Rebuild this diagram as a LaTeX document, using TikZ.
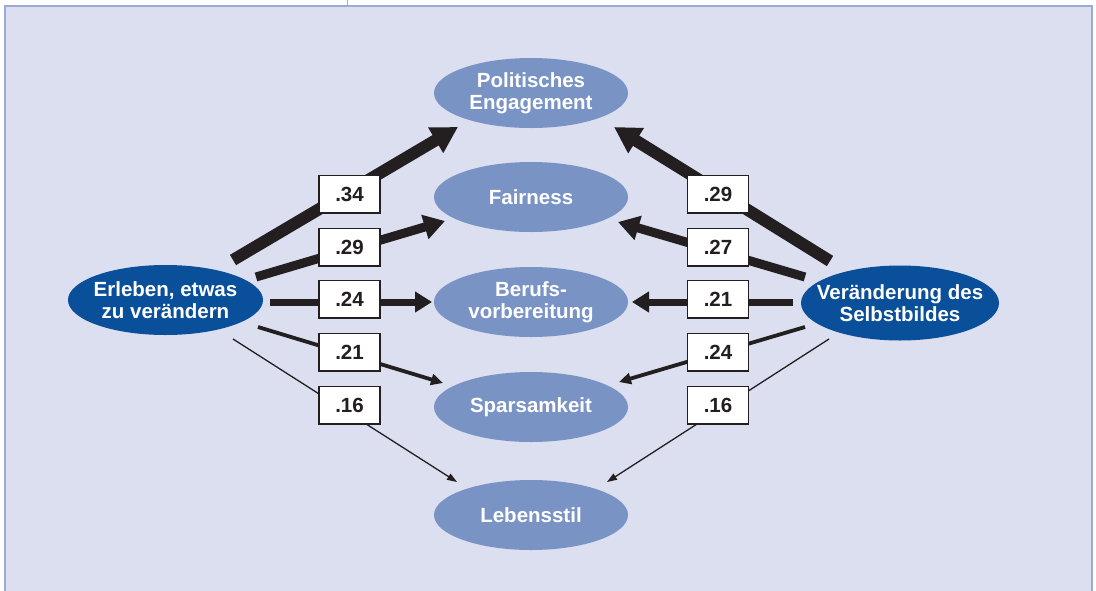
\documentclass[tikz,border=0pt]{standalone}
\usepackage{fontspec}
\setmainfont{Liberation Sans}
\usetikzlibrary{arrows.meta,shapes.geometric}
\definecolor{bgfill}{HTML}{DCDFEF}
\definecolor{bgline}{HTML}{9DAAD6}
\definecolor{lightov}{HTML}{7A93C5}
\definecolor{darkov}{HTML}{0A4F9A}
\definecolor{ink}{HTML}{231F20}
\begin{document}
\begin{tikzpicture}[x=1pt,y=-1pt,
  outcome/.style={ellipse, fill=lightov, minimum width=194pt, minimum height=70pt,
    inner sep=0pt, text=white, align=center, font=\bfseries\fontsize{20.5}{22}\selectfont},
  predictor/.style={ellipse, fill=darkov, minimum width=195pt, minimum height=70pt,
    inner sep=0pt},
  predtext/.style={inner sep=0pt, text=white, align=center, font=\bfseries\fontsize{20.5}{22}\selectfont},
  numbox/.style={draw=ink, line width=1.5pt, fill=white, minimum width=61pt,
    minimum height=37.5pt, inner sep=0pt, text=ink, font=\bfseries\fontsize{20.5}{24}\selectfont},
  wA/.style={draw=ink, line width=12pt, -{Triangle[length=26pt,width=28pt]}},
  wB/.style={draw=ink, line width=9pt, -{Triangle[length=21pt,width=24pt]}},
  wC/.style={draw=ink, line width=7pt, -{Triangle[length=17pt,width=20pt]}},
  wD/.style={draw=ink, line width=3.8pt, -{Triangle[length=12pt,width=11pt]}},
  wE/.style={draw=ink, line width=1.3pt, -{Triangle[length=10pt,width=7pt]}},
]
\clip (0,0) rectangle (1096,590);
% panel
\fill[bgfill] (5,6) rectangle (1092,600);
\draw[bgline, line width=2.5pt] (1092,600) -- (1092,6) -- (5,6) -- (5,600);
\draw[bgline, line width=1pt] (347,0) -- (347,6);

% nodes
\node[outcome] (pol) at (531,93) {Politisches\\Engagement};
\node[outcome] (fair) at (531,197) {Fairness};
\node[outcome] (beruf) at (531,302) {Berufs-\\vorbereitung};
\node[outcome] (spar) at (531,407) {Sparsamkeit};
\node[outcome] (leben) at (531,515) {Lebensstil};
\node[predictor] (erl) at (165.5,300) {};
\node[predtext] (erltext) at (erl.center) {Erleben, etwas\\zu verändern};
\node[predictor, minimum width=198pt, minimum height=75pt] (ver) at (900,303) {};
\node[predtext] (vertext) at (ver.center) {Veränderung des\\Selbstbildes};

% connectors left
\draw[wA] ([shift={(67.5,-40)}]erl.center) -- ([shift={(-73,34)}]pol.center);
\draw[wB] ([shift={(90.5,-23)}]erl.center) -- ([shift={(-86,24)}]fair.center);
\draw[wC] ([shift={(104.5,2)}]erl.center) -- ([shift={(-99,0)}]beruf.center);
\draw[wD] ([shift={(92.5,27)}]erl.center) -- ([shift={(-88,-24)}]spar.center);
\draw[wE] ([shift={(67.5,39)}]erl.center) -- ([shift={(-74,-33)}]leben.center);
% connectors right
\draw[wA] ([shift={(-70,-42)}]ver.center) -- ([shift={(83,34)}]pol.center);
\draw[wB] ([shift={(-95,-26)}]ver.center) -- ([shift={(87,25)}]fair.center);
\draw[wC] ([shift={(-107,-1)}]ver.center) -- ([shift={(101,0)}]beruf.center);
\draw[wD] ([shift={(-95,24)}]ver.center) -- ([shift={(88,-25)}]spar.center);
\draw[wE] ([shift={(-71,36)}]ver.center) -- ([shift={(76,-33)}]leben.center);

% coefficient boxes
\node[numbox] (l1) at (349.5,194) {.34};
\node[numbox] (l2) at (349.5,247) {.29};
\node[numbox] (l3) at (349.5,299) {.24};
\node[numbox] (l4) at (349.5,352) {.21};
\node[numbox] (l5) at (349.5,405) {.16};
\node[numbox] (r1) at (718,194) {.29};
\node[numbox] (r2) at (718,247) {.27};
\node[numbox] (r3) at (718,299) {.21};
\node[numbox] (r4) at (718,352) {.24};
\node[numbox] (r5) at (718,405) {.16};
\end{tikzpicture}
\end{document}
